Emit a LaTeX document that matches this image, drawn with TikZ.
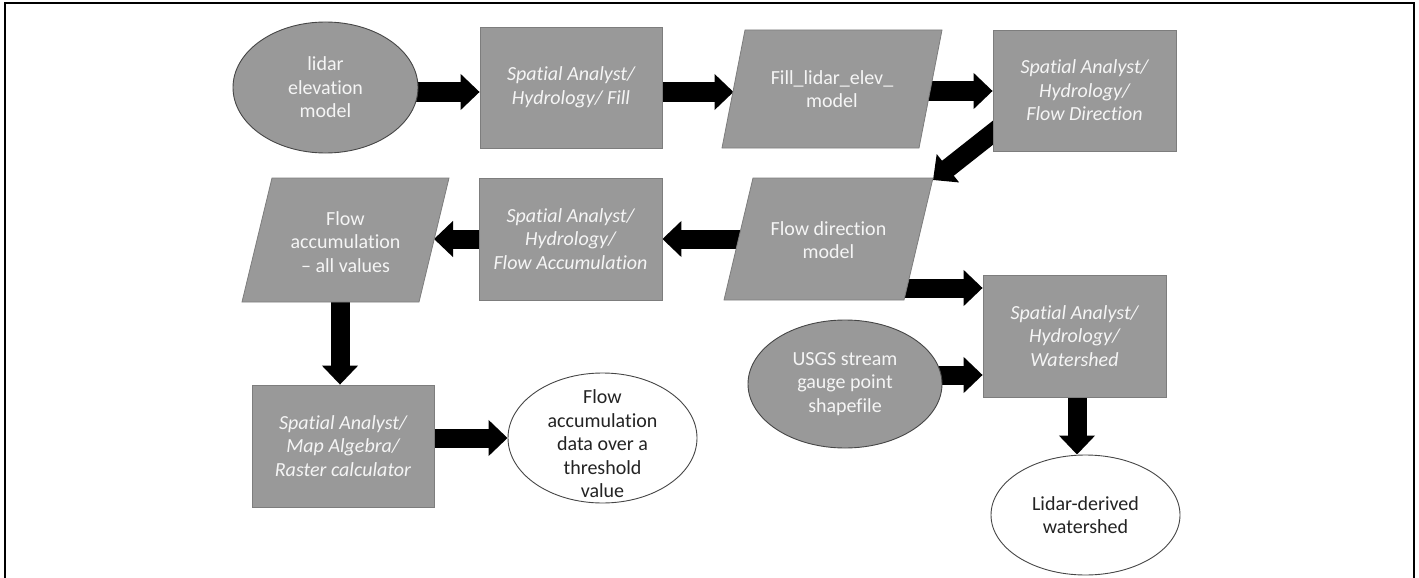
\documentclass[tikz,border=0pt]{standalone}
\usepackage{fontspec}
\setmainfont[Ligatures={NoCommon}]{Carlito}
\usetikzlibrary{shapes.geometric,arrows.meta,backgrounds}
\definecolor{boxgray}{RGB}{153,153,153}
\definecolor{edgegray}{RGB}{125,125,125}
\definecolor{ellgray}{RGB}{70,70,70}
\definecolor{txtlight}{RGB}{245,245,245}
\definecolor{txtdark}{RGB}{35,35,35}
\begin{document}
\begin{tikzpicture}[x=1pt,y=-1pt,
  every node/.style={font=\fontsize{20}{23.5}\selectfont, align=center, inner sep=0pt},
  procbox/.style={rectangle, fill=boxgray, draw=edgegray, line width=0.8pt, text=txtlight,
    font=\fontsize{20}{23.5}\selectfont\itshape},
  greyell/.style={ellipse, fill=boxgray, draw=ellgray, line width=0.9pt, text=txtlight},
  whiteell/.style={ellipse, fill=white, draw=ellgray, line width=0.9pt, text=txtdark},
  datapara/.style={fill=boxgray, draw=edgegray, line width=0.8pt},
  paratext/.style={text=txtlight},
  bigarrow/.style={line width=19pt, black, -{Triangle[width=35pt,length=19pt]}},
  framepen/.style={line width=2pt, black}
]
\useasboundingbox (0,0) rectangle (1419,578);
\draw[framepen] (5,578) -- (5,3) -- (1413.5,3) -- (1413.5,578);

% process boxes
\node[procbox, minimum width=182pt, minimum height=121pt] (fillbox) at (571,87.5) {Spatial Analyst/\\Hydrology/ Fill};
\node[procbox, minimum width=183pt, minimum height=121pt] (fdbox) at (1084.5,90.5) {Spatial Analyst/\\Hydrology/\\Flow Direction};
\node[procbox, minimum width=183pt, minimum height=122pt] (fabox) at (570.5,239) {Spatial Analyst/\\Hydrology/\\Flow Accumulation};
\node[procbox, minimum width=182pt, minimum height=122pt] (rcbox) at (343,446) {Spatial Analyst/\\Map Algebra/\\Raster calculator};
\node[procbox, minimum width=183pt, minimum height=122pt] (wsbox) at (1074.5,336) {Spatial Analyst/\\Hydrology/\\Watershed};

% ellipses
\node[greyell, minimum width=185pt, minimum height=131pt] (lidar) at (325.5,87.5) {lidar\\elevation\\model};
\node[greyell, minimum width=194pt, minimum height=128pt] (usgs) at (845,384) {USGS stream\\gauge point\\shapefile};
\node[whiteell, minimum width=189pt, minimum height=130pt] (facc) at (602.5,438) {};
\node[text=txtdark] (facctext) at (602.5,444) {Flow\\accumulation\\data over a\\threshold\\value};
\node[whiteell, minimum width=189pt, minimum height=120pt] (lw) at (1085.5,515) {Lidar-derived\\watershed};

% data parallelograms
\path[datapara] (745,30) -- (942,30) -- (919,148) -- (722,148) -- cycle;
\node[paratext] (fillpara) at (832,89) {Fill\_lidar\_elev\_\\model};
\path[datapara] (753,178) -- (933,178) -- (904,300) -- (724,300) -- cycle;
\node[paratext] (fdpara) at (828.5,240) {Flow direction\\model};
\path[datapara] (272,178) -- (449,178) -- (419,302) -- (242,302) -- cycle;
\node[paratext] (fapara) at (345.5,242) {Flow\\accumulation\\-- all values};

\coordinate (fillparaW) at (733.5,92);
\coordinate (fdparaNE) at (933,180);
\coordinate (faparaE) at (434,239);

% connectors
\begin{scope}[on background layer]
\draw[bigarrow] (lidar |- 0,92) -- (fillbox.west |- 0,92);
\draw[bigarrow] (fillbox |- 0,92) -- (fillparaW);
\draw[bigarrow] (fillpara |- 0,91) -- (fdbox.west |- 0,91);
\draw[bigarrow, shorten <=-25pt] (fdbox.west |- 0,133) -- (fdparaNE);
\draw[bigarrow] (fdpara |- 0,239) -- (fabox.east |- 0,239);
\draw[bigarrow] (fabox |- 0,239) -- (faparaE);
\draw[bigarrow] (fapara -| 340,0) -- (rcbox.north -| 340,0);
\draw[bigarrow] (rcbox |- 0,438) -- (facc.west |- 0,438);
\draw[bigarrow] (fdpara |- 0,288) -- (wsbox.west |- 0,288);
\draw[bigarrow] (usgs |- 0,375) -- (wsbox.west |- 0,375);
\draw[bigarrow] (wsbox -| 1077,0) -- (lw.north -| 1077,0);
\end{scope}
\end{tikzpicture}
\end{document}
